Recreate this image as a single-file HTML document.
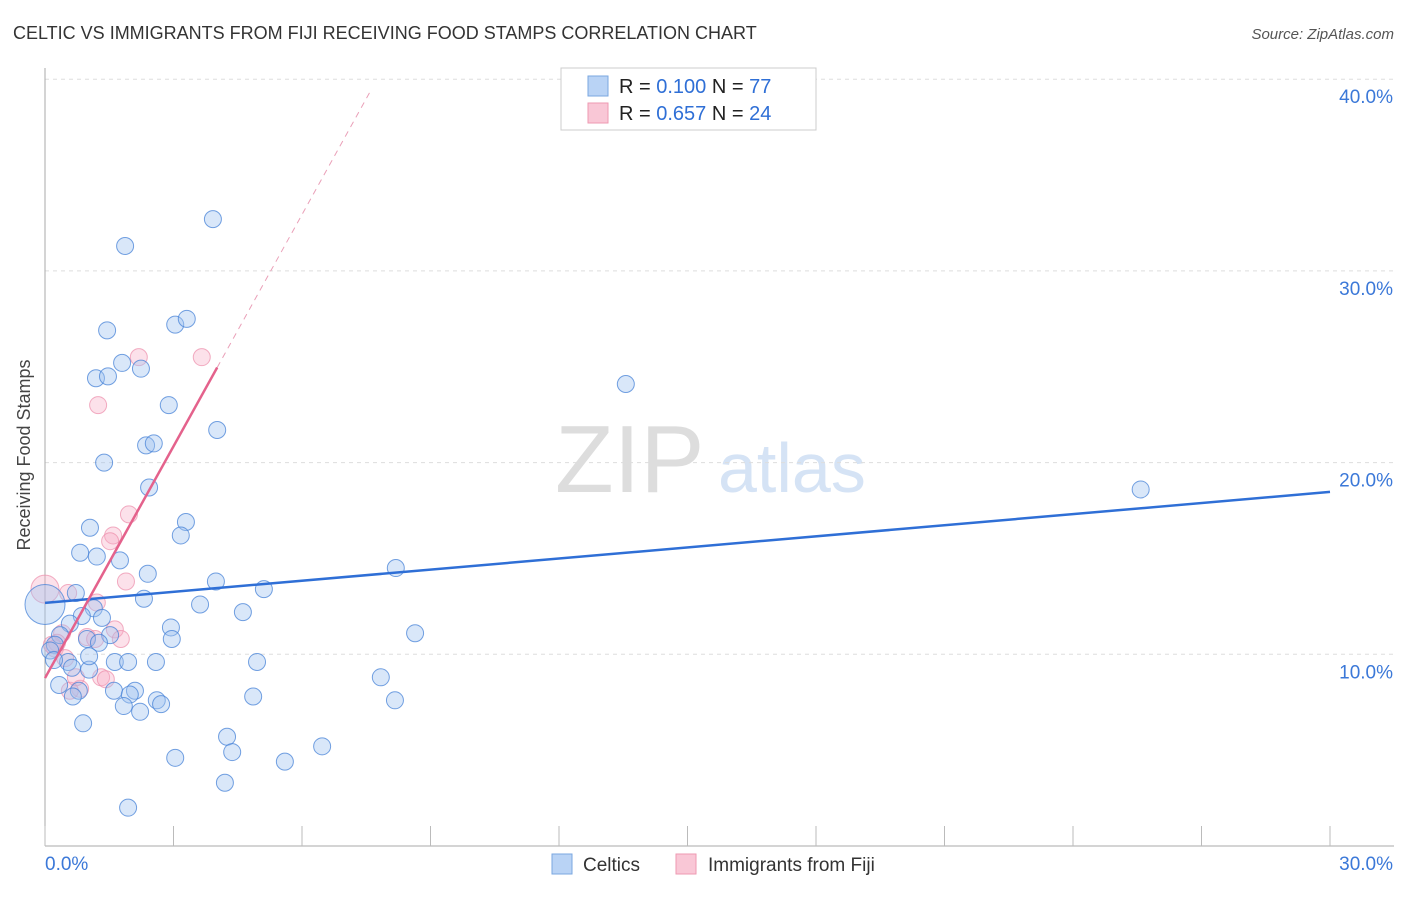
<!DOCTYPE html>
<html><head><meta charset="utf-8"><style>
body{margin:0;background:#fff;font-family:"Liberation Sans",sans-serif}
svg text{font-family:"Liberation Sans",sans-serif}
</style></head><body>
<svg id="chart" width="1406" height="892" xmlns="http://www.w3.org/2000/svg">
<text x="13" y="39" font-size="18" fill="#333">CELTIC VS IMMIGRANTS FROM FIJI RECEIVING FOOD STAMPS CORRELATION CHART</text>
<text x="1394" y="39" font-size="15" fill="#555" text-anchor="end" font-style="italic">Source: ZipAtlas.com</text>
<text x="30" y="455" font-size="18" fill="#444" text-anchor="middle" transform="rotate(-90 30 455)">Receiving Food Stamps</text>
<text x="555" y="492" font-size="96" fill="#ddd" font-family="Liberation Serif">ZIP</text>
<text x="718" y="492" font-size="70" fill="#d5e3f5">atlas</text>
<g id="grid"></g><g id="marks"></g>
<g>
<rect x="561" y="68" width="255" height="62" fill="#fff" stroke="#ccc"/>
<rect x="588" y="76" width="20" height="20" fill="#b9d3f5" stroke="#7aa7e0"/>
<rect x="588" y="103" width="20" height="20" fill="#f9c7d6" stroke="#ee9ab2"/>
<text x="619" y="93" font-size="20" fill="#222">R = <tspan fill="#2f6fd6">0.100</tspan>   N = <tspan fill="#2f6fd6">77</tspan></text>
<text x="619" y="120" font-size="20" fill="#222">R = <tspan fill="#2f6fd6">0.657</tspan>   N = <tspan fill="#2f6fd6">24</tspan></text>
</g>
<g>
<rect x="552" y="854" width="20" height="20" fill="#b9d3f5" stroke="#7aa7e0"/>
<text x="583" y="871" font-size="19" fill="#333">Celtics</text>
<rect x="676" y="854" width="20" height="20" fill="#f9c7d6" stroke="#ee9ab2"/>
<text x="708" y="871" font-size="19" fill="#333">Immigrants from Fiji</text>
</g>
</svg>
<script>
const yTicks=[10,20,30,40];
const xTickLabels=["0.0%","30.0%"];
const celticsX=[3.92,1.87,1.45,3.04,3.31,1.80,2.24,1.19,1.47,2.89,4.02,2.36,2.54,1.38,2.43,1.05,3.29,0.82,1.21,3.17,1.75,2.40,3.99,5.11,2.31,0.72,3.62,1.14,4.62,0.86,1.33,0.58,2.94,2.96,0.35,1.52,0.98,1.26,0.23,0.12,1.63,1.94,2.59,0.54,0.21,4.95,0.63,1.03,7.84,0.33,0.79,1.61,2.10,1.98,2.61,4.86,2.71,8.17,1.84,2.22,0.65,0.89,4.25,4.37,3.04,5.60,6.47,4.20,1.94,13.56,25.58,8.19,8.64,1.03,0.0];
const celticsY=[32.7,31.3,26.9,27.2,27.5,25.2,24.9,24.4,24.5,23.0,21.7,20.9,21.0,20.0,18.7,16.6,16.9,15.3,15.1,16.2,14.9,14.2,13.8,13.4,12.9,13.2,12.6,12.4,12.2,12.0,11.9,11.6,11.4,10.8,11.0,11.0,10.8,10.6,10.5,10.2,9.6,9.6,9.6,9.6,9.7,9.6,9.3,9.2,8.8,8.4,8.1,8.1,8.1,7.9,7.6,7.8,7.4,7.6,7.3,7.0,7.8,6.4,5.7,4.9,4.6,4.4,5.2,3.3,2.0,24.1,18.6,14.5,11.1,9.9,12.6];
const fijiX=[0.0,2.19,3.66,1.24,1.96,1.59,1.52,1.89,0.54,1.21,0.40,0.98,1.63,1.77,0.23,0.47,1.31,1.42,0.82,0.58,0.28,0.16,1.17,0.72];
const fijiY=[13.4,25.5,25.5,23.0,17.3,16.2,15.9,13.8,13.2,12.7,11.1,10.9,11.3,10.8,10.3,9.8,8.8,8.7,8.2,8.1,10.6,10.5,10.8,8.8];
const blueTrend=[12.68,18.47];
const pinkIntercept=8.76, pinkSlope=4.03, pinkSolidEnd=4.02, pinkDashEnd=7.63;
const X0=45,X1=1330,Y0=846,PPU=19.17;
const sx=v=>X0+(v/30)*(X1-X0), sy=v=>Y0-v*PPU;
const NS="http://www.w3.org/2000/svg";
const grid=document.getElementById('grid'),marks=document.getElementById('marks');
function mk(tag,attrs,parent){const e=document.createElementNS(NS,tag);for(const k in attrs)e.setAttribute(k,attrs[k]);parent.appendChild(e);return e;}
yTicks.forEach(t=>{
 const l=mk('line',{x1:45,x2:1394,y1:sy(t),y2:sy(t),stroke:'#ddd','stroke-dasharray':'4,4'},grid);
 
 
 const tx=mk('text',{x:1393,y:sy(t)+24,'font-size':19,fill:'#3b78d8','text-anchor':'end'},grid);
 tx.textContent=t.toFixed(1)+'%';
 
 
});
const ax=mk('line',{x1:45,x2:45,y1:68,y2:846,stroke:'#aaa'},grid);


const bx=mk('line',{x1:45,x2:1394,y1:846,y2:846,stroke:'#aaa'},grid);


for(let i=0;i<=10;i++){const x=45+i*128.5;const tk=mk('line',{x1:x,x2:x,y1:826,y2:846,stroke:'#bbb'},grid);
 
 }
[[53,'start'],[1393,'end']].forEach((p,i)=>{const t=mk('text',{x:p[0]-8+(i?8:0),y:870,'font-size':19,fill:'#3b78d8','text-anchor':p[1]},grid);t.textContent=xTickLabels[i];
 
 });
fijiX.forEach((x,i)=>{const c=mk('circle',{cx:sx(x),cy:sy(fijiY[i]),r:i==0?14:8.5,fill:'rgba(246,170,195,0.35)',stroke:'rgba(236,140,170,0.7)'},marks);
 
 });
celticsX.forEach((x,i)=>{const c=mk('circle',{cx:sx(x),cy:sy(celticsY[i]),r:i==celticsX.length-1?20:8.5,fill:'rgba(160,195,240,0.4)',stroke:'rgba(70,130,215,0.75)'},marks);
 
 });
const bl=mk('line',{x1:sx(0),y1:sy(blueTrend[0]),x2:sx(30),y2:sy(blueTrend[1]),stroke:'#2f6fd6','stroke-width':2.5},marks);


const pl=mk('line',{x1:sx(0),y1:sy(pinkIntercept),x2:sx(pinkSolidEnd),y2:sy(pinkIntercept+pinkSlope*pinkSolidEnd),stroke:'#e4628c','stroke-width':2.5},marks);


const pd=mk('line',{x1:sx(pinkSolidEnd),y1:sy(pinkIntercept+pinkSlope*pinkSolidEnd),x2:sx(pinkDashEnd),y2:sy(pinkIntercept+pinkSlope*pinkDashEnd),stroke:'#eaa0b8','stroke-width':1,'stroke-dasharray':'6,5'},marks);


</script>
</body></html>
